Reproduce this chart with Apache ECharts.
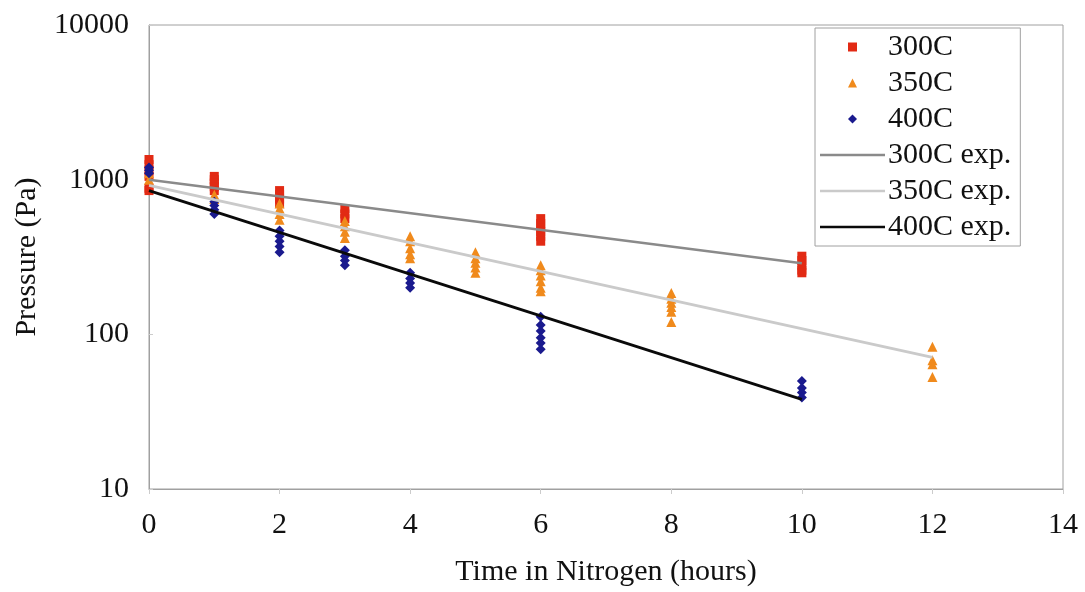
<!DOCTYPE html>
<html>
<head>
<meta charset="utf-8">
<script src="https://cdn.jsdelivr.net/npm/echarts@6/dist/echarts.min.js"></script>
<style>
  html, body { margin: 0; padding: 0; background: #fff; }
  #chart { width: 1085px; height: 592px; }
</style>
</head>
<body>
<div id="chart"></div>
<script>
// ---- measured points: [hours, pressure Pa] ----
const pts300 = [
  [0, 1350], [0, 1250], [0, 1150], [0, 1050], [0, 880], [0, 850],
  [1, 1050], [1, 1000], [1, 950], [1, 900], [1, 850],
  [2, 850], [2, 800], [2, 750], [2, 700],
  [3, 650], [3, 600], [3, 560],
  [6, 560], [6, 520], [6, 490], [6, 460], [6, 430], [6, 400],
  [10, 320], [10, 300], [10, 280], [10, 260], [10, 250]
];
const pts350 = [
  [0, 1100], [0, 1000],
  [1, 800], [1, 750],
  [2, 700], [2, 650], [2, 600], [2, 550],
  [3, 540], [3, 500], [3, 460], [3, 420],
  [4, 430], [4, 400], [4, 360], [4, 330], [4, 310],
  [5, 340], [5, 310], [5, 290], [5, 270], [5, 250],
  [6, 280], [6, 260], [6, 240], [6, 220], [6, 200], [6, 190],
  [8, 185], [8, 170], [8, 160], [8, 150], [8, 140], [8, 120],
  [12, 83], [12, 68], [12, 64], [12, 53]
];
const pts400 = [
  [0, 1200], [0, 1150], [0, 1100],
  [1, 720], [1, 680], [1, 640], [1, 600],
  [2, 470], [2, 430], [2, 400], [2, 370], [2, 340],
  [3, 350], [3, 320], [3, 300], [3, 280],
  [4, 250], [4, 230], [4, 215], [4, 200],
  [6, 130], [6, 115], [6, 105], [6, 95], [6, 88], [6, 80],
  [10, 50], [10, 45], [10, 42], [10, 39]
];
// ---- fitted exponential lines (end points) ----
const fit300 = [[0, 1000], [10, 288]];
const fit350 = [[0, 920], [12, 71]];
const fit400 = [[0, 850], [10, 38]];

const xTicks = { min: 0, max: 14, step: 2 };
const yRange = { min: 10, max: 10000 };

const fuente = '"Liberation Serif", "DejaVu Serif", serif';
const gris = '#a0a0a0';
const colores = { s300: '#e22a14', s350: '#f08a1c', s400: '#1a1a8e', l300: '#8a8a8a', l350: '#cacaca', l400: '#0a0a0a' };

// iconos de leyenda (path con aspecto fijo)
const icoCuadro = 'path://M0,0L10,0L10,10L0,10Z';
const icoTriang = 'path://M5,0L10,10L0,10Z';
const icoRombo = 'path://M5,0L10,5L5,10L0,5Z';
const icoLinea = 'path://M0,0L65,0L65,2.6L0,2.6Z';

const chart = echarts.init(document.getElementById('chart'));
chart.setOption({
  backgroundColor: '#fff',
  animation: false,
  grid: { left: 149, right: 22, top: 25, bottom: 103, show: true, borderColor: gris, borderWidth: 1 },
  xAxis: {
    type: 'value', min: xTicks.min, max: xTicks.max, interval: xTicks.step,
    name: 'Time in Nitrogen (hours)', nameLocation: 'middle', nameGap: 68,
    nameTextStyle: { fontFamily: fuente, fontSize: 30, color: '#111' },
    axisLine: { show: true, lineStyle: { color: gris } },
    axisTick: { show: true, length: 5, lineStyle: { color: '#ccc' } },
    axisLabel: { fontFamily: fuente, fontSize: 30, color: '#111', margin: 21 },
    splitLine: { show: false }
  },
  yAxis: {
    type: 'log', logBase: 10, min: yRange.min, max: yRange.max,
    name: 'Pressure (Pa)', nameLocation: 'middle', nameGap: 107,
    nameTextStyle: { fontFamily: fuente, fontSize: 30, color: '#111' },
    axisLine: { show: true, lineStyle: { color: gris } },
    axisTick: { show: true, inside: true, length: 4, lineStyle: { color: '#ccc' } },
    axisLabel: { fontFamily: fuente, fontSize: 30, color: '#111', margin: 20, formatter: v => String(Math.round(v)) },
    splitLine: { show: false }
  },
  legend: {
    orient: 'vertical', left: 815, top: 28,
    padding: [4, 9, 4, 5],
    itemWidth: 65, itemHeight: 9, itemGap: 6,
    symbolKeepAspect: true,
    borderColor: gris, borderWidth: 1, backgroundColor: '#fff',
    textStyle: { fontFamily: fuente, fontSize: 30, color: '#111', lineHeight: 30, padding: [0, 0, 0, -2] },
    data: [
      { name: '300C', icon: icoCuadro, itemStyle: { color: colores.s300 } },
      { name: '350C', icon: icoTriang, itemStyle: { color: colores.s350 } },
      { name: '400C', icon: icoRombo, itemStyle: { color: colores.s400 } },
      { name: '300C exp.', icon: icoLinea, itemStyle: { color: colores.l300 } },
      { name: '350C exp.', icon: icoLinea, itemStyle: { color: colores.l350 } },
      { name: '400C exp.', icon: icoLinea, itemStyle: { color: colores.l400 } }
    ]
  },
  series: [
    { name: '300C exp.', type: 'line', data: fit300, symbol: 'none', z: 3,
      lineStyle: { color: colores.l300, width: 2.6 }, itemStyle: { color: colores.l300 } },
    { name: '350C exp.', type: 'line', data: fit350, symbol: 'none', z: 3,
      lineStyle: { color: colores.l350, width: 2.8 }, itemStyle: { color: colores.l350 } },
    { name: '400C exp.', type: 'line', data: fit400, symbol: 'none', z: 3,
      lineStyle: { color: colores.l400, width: 2.8 }, itemStyle: { color: colores.l400 } },
    { name: '300C', type: 'scatter', data: pts300, symbol: 'rect', symbolSize: 9, z: 2,
      itemStyle: { color: colores.s300, opacity: 1 } },
    { name: '350C', type: 'scatter', data: pts350, symbol: 'triangle', symbolSize: 10, z: 2,
      itemStyle: { color: colores.s350, opacity: 1 } },
    { name: '400C', type: 'scatter', data: pts400, symbol: 'diamond', symbolSize: 10, z: 2,
      itemStyle: { color: colores.s400, opacity: 1 } }
  ]
});
</script>
</body>
</html>
